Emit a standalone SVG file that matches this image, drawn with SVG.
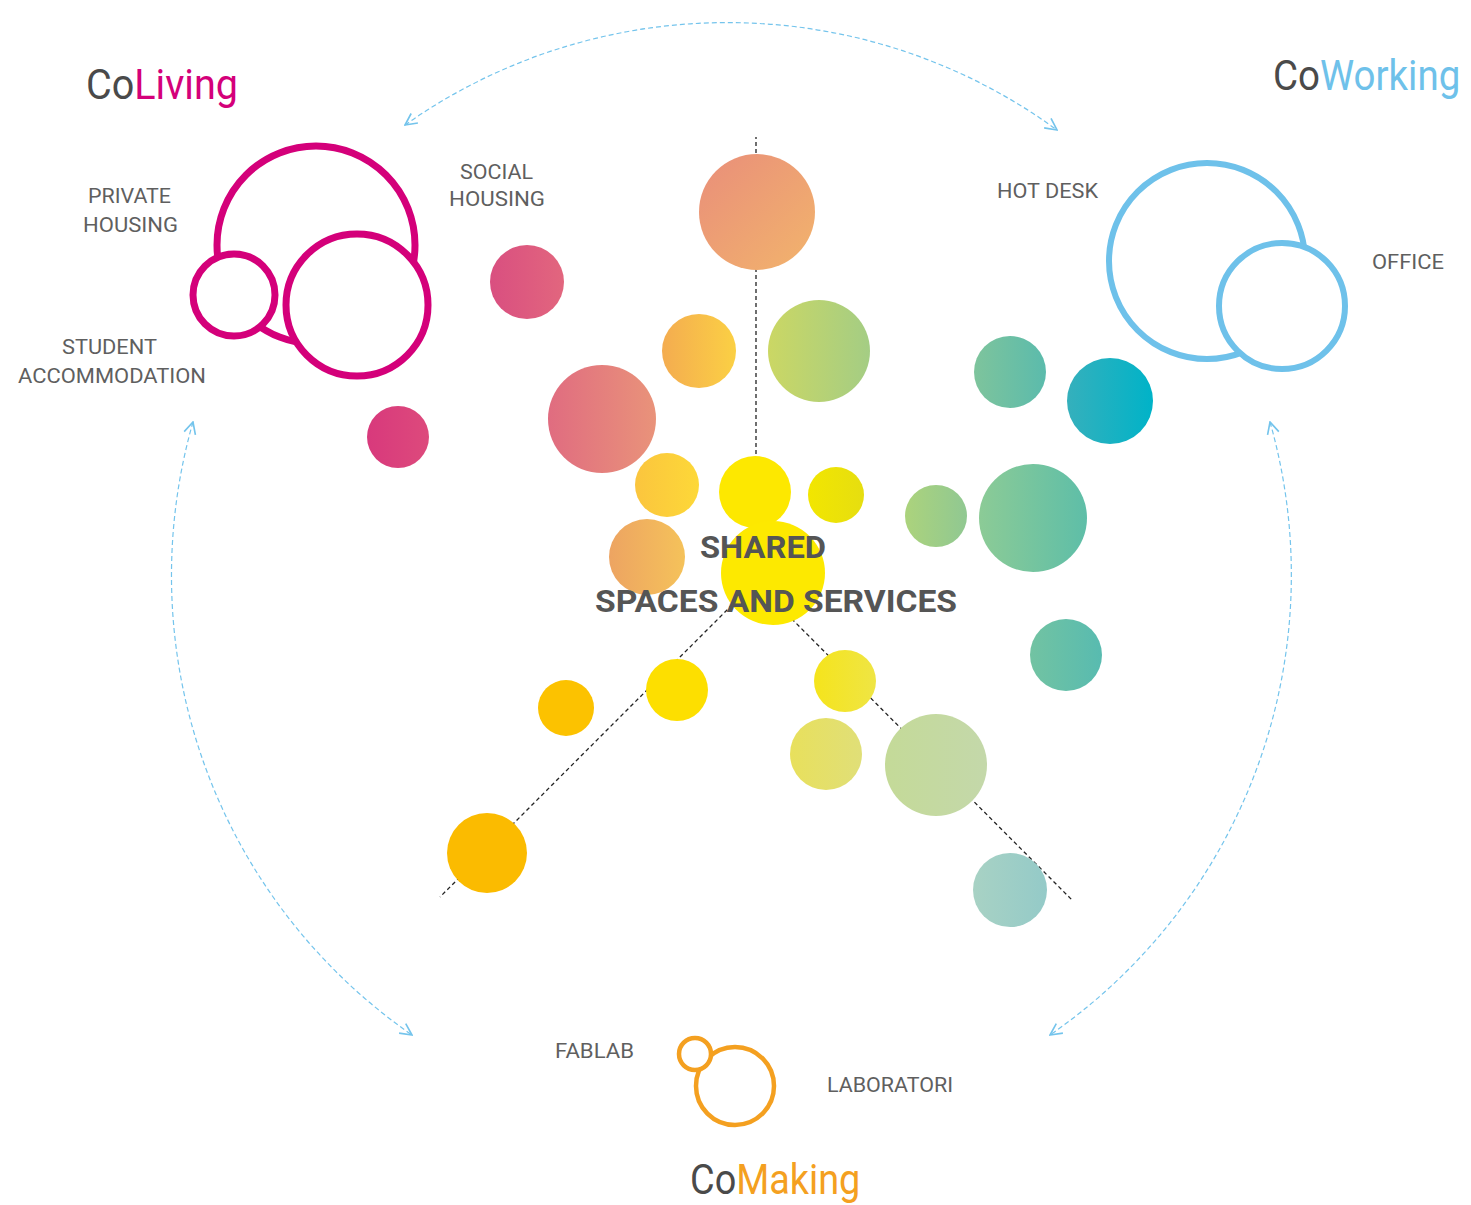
<svg xmlns="http://www.w3.org/2000/svg" width="1471" height="1205" viewBox="0 0 1471 1205">
<style>
.lbl{font-family:Roboto,"Liberation Sans",sans-serif;font-size:20px;fill:#5f5f5f;}
.ttl{font-family:Roboto,"Liberation Sans",sans-serif;font-size:43px;font-weight:normal;}
.co{fill:#4a4a4a;}
.ctr{font-family:Roboto,"Liberation Sans",sans-serif;font-size:32px;font-weight:bold;fill:#555555;}
.arc{fill:none;stroke:#74c4ec;stroke-width:1.2;stroke-dasharray:5 3;marker-start:url(#ah);marker-end:url(#ah);}
.axis{fill:none;stroke:#222;stroke-width:1.3;stroke-dasharray:4 3;}
.ring{fill:#fff;}
</style>
<defs>
<marker id="ah" viewBox="0 0 12 12" refX="11" refY="6" markerWidth="14" markerHeight="14" markerUnits="userSpaceOnUse" orient="auto-start-reverse">
<path d="M1 1 L11 6 L1 11" fill="none" stroke="#74c4ec" stroke-width="1.4"/>
</marker>
<linearGradient id="g1" x1="0" y1="0" x2="1" y2="1"><stop offset="0" stop-color="#e98e7a"/><stop offset="1" stop-color="#f2b46c"/></linearGradient>
<linearGradient id="g2"><stop offset="0" stop-color="#d94f80"/><stop offset="1" stop-color="#e2667e"/></linearGradient>
<linearGradient id="g3"><stop offset="0" stop-color="#f4ac50"/><stop offset="1" stop-color="#fbd044"/></linearGradient>
<linearGradient id="g4"><stop offset="0" stop-color="#cbd764"/><stop offset="1" stop-color="#a4cd84"/></linearGradient>
<linearGradient id="g5"><stop offset="0" stop-color="#e06c80"/><stop offset="1" stop-color="#e9937a"/></linearGradient>
<linearGradient id="g6"><stop offset="0" stop-color="#d8397c"/><stop offset="1" stop-color="#dd4a7c"/></linearGradient>
<linearGradient id="g7"><stop offset="0" stop-color="#fbc53e"/><stop offset="1" stop-color="#fdd838"/></linearGradient>
<linearGradient id="g9"><stop offset="0" stop-color="#f2e600"/><stop offset="1" stop-color="#e6de10"/></linearGradient>
<linearGradient id="g10"><stop offset="0" stop-color="#eda462"/><stop offset="1" stop-color="#f5c25a"/></linearGradient>
<linearGradient id="g12"><stop offset="0" stop-color="#acd37c"/><stop offset="1" stop-color="#90c892"/></linearGradient>
<linearGradient id="g13"><stop offset="0" stop-color="#8ccb96"/><stop offset="1" stop-color="#5ebea8"/></linearGradient>
<linearGradient id="g14"><stop offset="0" stop-color="#7ec49c"/><stop offset="1" stop-color="#5bbbac"/></linearGradient>
<linearGradient id="g15"><stop offset="0" stop-color="#35b0bc"/><stop offset="1" stop-color="#00b3c8"/></linearGradient>
<linearGradient id="g16"><stop offset="0" stop-color="#72c3a2"/><stop offset="1" stop-color="#58bbb0"/></linearGradient>
<linearGradient id="g19"><stop offset="0" stop-color="#f5e41c"/><stop offset="1" stop-color="#efe544"/></linearGradient>
<linearGradient id="g20"><stop offset="0" stop-color="#e8e05c"/><stop offset="1" stop-color="#e0df78"/></linearGradient>
<linearGradient id="g21"><stop offset="0" stop-color="#c4da98"/><stop offset="1" stop-color="#c4d8aa"/></linearGradient>
<linearGradient id="g23"><stop offset="0" stop-color="#a8d2c4"/><stop offset="1" stop-color="#94cac8"/></linearGradient>
</defs>

<g id="connectors">
<path class="arc" d="M405 125 A559 559 0 0 1 1057 130"/>
<path class="arc" d="M193 422 A559 559 0 0 0 412 1035"/>
<path class="arc" d="M1270 422 A559 559 0 0 1 1050 1035"/>
<line class="axis" x1="756" y1="580" x2="756" y2="137"/>
<line class="axis" x1="757" y1="580" x2="440" y2="897"/>
<line class="axis" x1="757" y1="584" x2="1072" y2="900"/>
</g>

<g id="bubbles">
<circle cx="757" cy="212" r="58" fill="url(#g1)"/>
<circle cx="527" cy="282" r="37" fill="url(#g2)"/>
<circle cx="699" cy="351" r="37" fill="url(#g3)"/>
<circle cx="819" cy="351" r="51" fill="url(#g4)"/>
<circle cx="602" cy="419" r="54" fill="url(#g5)"/>
<circle cx="398" cy="437" r="31" fill="url(#g6)"/>
<circle cx="667" cy="485" r="32" fill="url(#g7)"/>
<circle cx="755" cy="492" r="36" fill="#fde800"/>
<circle cx="836" cy="495" r="28" fill="url(#g9)"/>
<circle cx="647" cy="557" r="38" fill="url(#g10)"/>
<circle cx="773" cy="573" r="52" fill="#fde900"/>
<circle cx="936" cy="516" r="31" fill="url(#g12)"/>
<circle cx="1033" cy="518" r="54" fill="url(#g13)"/>
<circle cx="1010" cy="372" r="36" fill="url(#g14)"/>
<circle cx="1110" cy="401" r="43" fill="url(#g15)"/>
<circle cx="1066" cy="655" r="36" fill="url(#g16)"/>
<circle cx="677" cy="690" r="31" fill="#fddf00"/>
<circle cx="566" cy="708" r="28" fill="#fcc200"/>
<circle cx="845" cy="681" r="31" fill="url(#g19)"/>
<circle cx="826" cy="754" r="36" fill="url(#g20)"/>
<circle cx="936" cy="765" r="51" fill="url(#g21)"/>
<circle cx="487" cy="853" r="40" fill="#fbbb00"/>
<circle cx="1010" cy="890" r="37" fill="url(#g23)"/>
</g>

<g id="center-label">
<text class="ctr" x="700" y="558" textLength="126" lengthAdjust="spacingAndGlyphs">SHARED</text>
<text class="ctr" x="595" y="612" textLength="362" lengthAdjust="spacingAndGlyphs">SPACES AND SERVICES</text>
</g>

<g id="coliving">
<circle cx="316" cy="245" r="99" fill="none" stroke="#d4007a" stroke-width="7"/>
<circle class="ring" cx="234" cy="295" r="41" stroke="#d4007a" stroke-width="7"/>
<circle class="ring" cx="357" cy="305" r="71" stroke="#d4007a" stroke-width="7"/>
<text class="ttl" transform="translate(86 99) scale(0.92 1)"><tspan class="co">Co</tspan><tspan fill="#d4007a">Living</tspan></text>
<text class="lbl" x="88" y="203" textLength="83" lengthAdjust="spacingAndGlyphs">PRIVATE</text>
<text class="lbl" x="83" y="232" textLength="95" lengthAdjust="spacingAndGlyphs">HOUSING</text>
<text class="lbl" x="62" y="354" textLength="95" lengthAdjust="spacingAndGlyphs">STUDENT</text>
<text class="lbl" x="18" y="383" textLength="188" lengthAdjust="spacingAndGlyphs">ACCOMMODATION</text>
<text class="lbl" x="460" y="179" textLength="73" lengthAdjust="spacingAndGlyphs">SOCIAL</text>
<text class="lbl" x="449" y="206" textLength="96" lengthAdjust="spacingAndGlyphs">HOUSING</text>
</g>

<g id="coworking">
<circle cx="1207" cy="261" r="98" fill="none" stroke="#6ec1ea" stroke-width="6"/>
<circle class="ring" cx="1282" cy="306" r="63" stroke="#6ec1ea" stroke-width="6"/>
<text class="ttl" transform="translate(1273 90) scale(0.895 1)"><tspan class="co">Co</tspan><tspan fill="#6ec1ea">Working</tspan></text>
<text class="lbl" x="997" y="198" textLength="101" lengthAdjust="spacingAndGlyphs">HOT DESK</text>
<text class="lbl" x="1372" y="269" textLength="72" lengthAdjust="spacingAndGlyphs">OFFICE</text>
</g>

<g id="comaking">
<circle cx="735" cy="1086" r="39" fill="none" stroke="#f4a020" stroke-width="4.5"/>
<circle class="ring" cx="695" cy="1054" r="16" stroke="#f4a020" stroke-width="4.5"/>
<text class="ttl" transform="translate(690 1194) scale(0.88 1)"><tspan class="co">Co</tspan><tspan fill="#f4a020">Making</tspan></text>
<text class="lbl" x="555" y="1058" textLength="79" lengthAdjust="spacingAndGlyphs">FABLAB</text>
<text class="lbl" x="827" y="1092" textLength="126" lengthAdjust="spacingAndGlyphs">LABORATORI</text>
</g>
</svg>
